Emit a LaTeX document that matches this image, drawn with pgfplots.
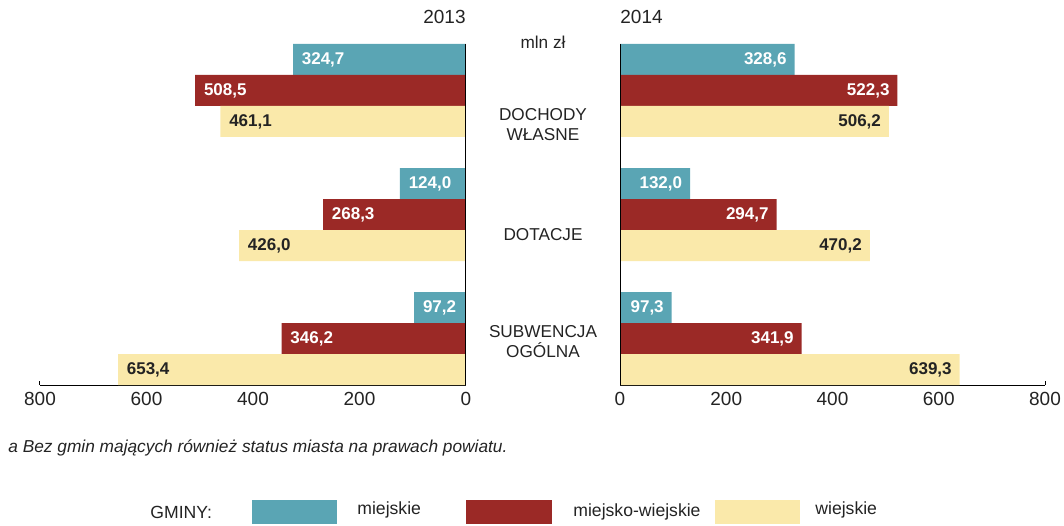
\documentclass[border=0pt]{standalone}
\usepackage{fontspec}
\setmainfont{Liberation Sans}
\usepackage{pgfplots}
\pgfplotsset{compat=1.18}
\usepackage{pgfplotstable}

\definecolor{cMie}{RGB}{90,165,180}
\definecolor{cMW}{RGB}{155,41,38}
\definecolor{cWie}{RGB}{250,233,170}
\definecolor{txt}{RGB}{35,35,35}

% 2013
\pgfplotstableread{
pos m mw w
2 324.7 508.5 461.1
1 124.0 268.3 426.0
0 97.2 346.2 653.4
}\tabA
% 2014
\pgfplotstableread{
pos m mw w
2 328.6 522.3 506.2
1 132.0 294.7 470.2
0 97.3 341.9 639.3
}\tabB

\pgfplotsset{
  panel/.style={
    scale only axis, height=170.5pt,
    xmin=0, xmax=800, ymin=-0.375, ymax=2.375,
    axis x line*=bottom, axis y line=none,
    ytick=\empty,
    xtick={0,200,400,600,800},
    tick align=inside, major tick length=2pt,
    axis line style={black, line width=0.5pt},
    tick style={black, line width=0.5pt},
    xticklabel style={font=\fontsize{9.5}{11}\selectfont, text=txt},
    /pgf/number format/assume math mode=true,
    xbar, bar width=0.25, bar shift=0pt,
    point meta=x,
    nodes near coords={\pgfmathprintnumber[fixed, fixed zerofill, precision=1, use comma, assume math mode=true]{\pgfplotspointmeta}},
    every node near coord/.append style={font=\bfseries\fontsize{8.5}{10}\selectfont, inner sep=0pt},
    clip=false,
  },
  lbl/.style={every node near coord/.append style={anchor=west, xshift=4.2pt}},
  rbl/.style={every node near coord/.append style={anchor=east, xshift=-3.8pt}},
}

\begin{document}
\begin{tikzpicture}
\path[use as bounding box] (0,0) rectangle (532pt,262.5pt);

% 2013 panel
\begin{axis}[panel, width=213pt, x dir=reverse, at={(20pt,70pt)}, anchor=south west]
\addplot[fill=cMie, draw=none, lbl, every node near coord/.append style={text=white}]
  table[x=m, y expr=\thisrow{pos}+0.25] {\tabA};
\addplot[fill=cMW, draw=none, lbl, every node near coord/.append style={text=white}]
  table[x=mw, y=pos] {\tabA};
\addplot[fill=cWie, draw=none, lbl, every node near coord/.append style={text=txt}]
  table[x=w, y expr=\thisrow{pos}-0.25] {\tabA};
\draw[black, line width=0.5pt] (axis cs:0,-0.375) -- (axis cs:0,2.375);
\end{axis}

% 2014 panel
\begin{axis}[panel, width=212.5pt, at={(310pt,70pt)}, anchor=south west]
\addplot[fill=cMie, draw=none, rbl, every node near coord/.append style={text=white}]
  table[x=m, y expr=\thisrow{pos}+0.25] {\tabB};
\addplot[fill=cMW, draw=none, rbl, every node near coord/.append style={text=white}]
  table[x=mw, y=pos] {\tabB};
\addplot[fill=cWie, draw=none, rbl, every node near coord/.append style={text=txt}]
  table[x=w, y expr=\thisrow{pos}-0.25] {\tabB};
\draw[black, line width=0.5pt] (axis cs:0,-0.375) -- (axis cs:0,2.375);
\end{axis}

% titles and category labels
\begin{scope}[every node/.style={text=txt, inner sep=0pt, font=\fontsize{9.5}{11}\selectfont}]
\node[anchor=east] at (233pt,254pt) {2013};
\node[anchor=west] at (310pt,254pt) {2014};
\end{scope}
\begin{scope}[every node/.style={text=txt, inner sep=0pt, align=center, font=\fontsize{8.6}{10}\selectfont}]
\node at (271.5pt,241.5pt) {mln zł};
\node at (271.5pt,200pt) {DOCHODY\\WŁASNE};
\node at (271.5pt,145pt) {DOTACJE};
\node at (271.5pt,91.5pt) {SUBWENCJA\\OGÓLNA};
\end{scope}

% footnote
\node[anchor=west, inner sep=0pt, text=txt, font=\itshape\fontsize{8.65}{10}\selectfont] at (4pt,38.5pt)
  {a Bez gmin mających również status miasta na prawach powiatu.};

% legend
\begin{scope}[every node/.style={anchor=west, inner sep=0pt, text=txt, font=\fontsize{8.8}{10}\selectfont}]
\node at (75pt,6.5pt) {GMINY:};
\fill[cMie] (126pt,0.5pt) rectangle (168.5pt,12.5pt);
\node at (178.5pt,7.5pt) {miejskie};
\fill[cMW] (233pt,0.5pt) rectangle (276pt,12.5pt);
\node at (286.5pt,6.5pt) {miejsko-wiejskie};
\fill[cWie] (357.5pt,0.5pt) rectangle (400pt,12.5pt);
\node at (407.5pt,7.5pt) {wiejskie};
\end{scope}
\end{tikzpicture}
\end{document}
